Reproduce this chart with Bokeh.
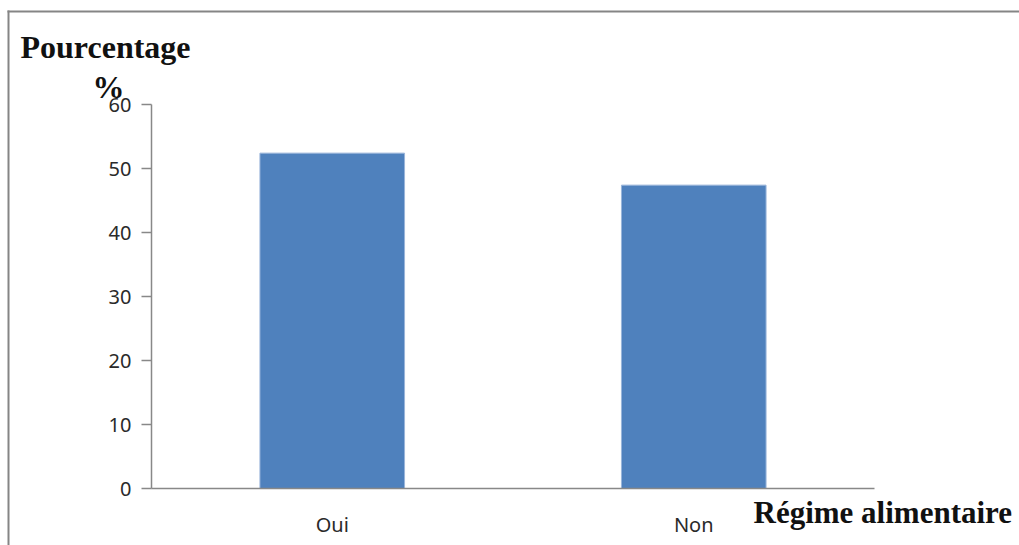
from bokeh.plotting import figure
from bokeh.models import Range1d, Label, BoxAnnotation, FixedTicker, ColumnDataSource
from bokeh.embed import file_html
from bokeh.resources import INLINE

categories = ["Oui", "Non"]
values = [52.4, 47.4]
y_ticks = [0, 10, 20, 30, 40, 50, 60]
y_title = "Pourcentage"
y_unit = "%"
x_title = "Régime alimentaire"

W, H = 1019, 545
# frame mapping: category band 0..len(categories) spans canvas x 151..874,
# value 0..60 spans canvas y 488..104
X0, X1 = 151, 874
Y0, Y1 = 488, 104
ncat = len(categories)
sx = (X1 - X0) / ncat
sy = (Y0 - Y1) / (y_ticks[-1] - y_ticks[0])

def dx(px):
    return (px - X0) / sx

def dy(py):
    return (Y0 - py) / sy

p = figure(width=W, height=H,
           x_range=Range1d(dx(0), dx(W)),
           y_range=Range1d(dy(H), dy(0)),
           output_backend="svg", toolbar_location=None,
           min_border=0)

xpos = [i + 0.5 for i in range(ncat)]
src = ColumnDataSource(dict(x=xpos, top=values, cat=categories))
p.vbar(x="x", top="top", width=0.4, source=src,
       fill_color="#4F81BD", line_color="#9AB5DA", line_width=1)

p.xgrid.visible = False
p.ygrid.visible = False
p.outline_line_color = None
p.background_fill_color = "white"
p.border_fill_color = "white"

axis_color = "#888888"
for ax in (p.xaxis[0], p.yaxis[0]):
    ax.axis_line_color = axis_color
    ax.axis_line_width = 1.5
    ax.major_tick_line_color = axis_color
    ax.major_tick_line_width = 1.5
    ax.minor_tick_line_color = None
    ax.major_label_text_font = "Noto Sans"
    ax.major_label_text_font_size = "20px"
    ax.major_label_text_color = "#2a2a2a"

p.yaxis.fixed_location = 0
p.yaxis.bounds = (y_ticks[0], y_ticks[-1])
p.yaxis.ticker = FixedTicker(ticks=y_ticks, minor_ticks=[])
p.yaxis.major_tick_in = 0
p.yaxis.major_tick_out = 10
p.yaxis.major_label_standoff = 10

p.xaxis.fixed_location = 0
p.xaxis.bounds = (0, ncat)
p.xaxis.ticker = FixedTicker(ticks=xpos, minor_ticks=[])
p.xaxis.major_label_overrides = {x: c for x, c in zip(xpos, categories)}
p.xaxis.major_tick_line_color = None
p.xaxis.major_label_standoff = 16

def canvas_label(text, cx, cy_base, size="32px"):
    return Label(x=dx(cx), y=dy(cy_base),
                 text=text, text_font="Liberation Serif", text_font_style="bold",
                 text_font_size=size, text_color="#111111",
                 text_baseline="alphabetic", text_align="left")

p.add_layout(canvas_label(y_title, 20, 46))
p.add_layout(canvas_label(y_unit, 92, 86))
p.add_layout(canvas_label(x_title, 753, 512, "31px"))

# chart-area border (top and left edges visible; the rest lies outside the picture)
border_color = "#858585"
top_edge = BoxAnnotation(left=dx(7), right=dx(W + 40), top=dy(10), bottom=dy(12),
                         fill_color=border_color, fill_alpha=1.0, line_color=None)
left_edge = BoxAnnotation(left=dx(7), right=dx(9), top=dy(10), bottom=dy(H + 40),
                          fill_color=border_color, fill_alpha=1.0, line_color=None)
p.add_layout(top_edge)
p.add_layout(left_edge)

open("out.html", "w").write(file_html(p, INLINE))
